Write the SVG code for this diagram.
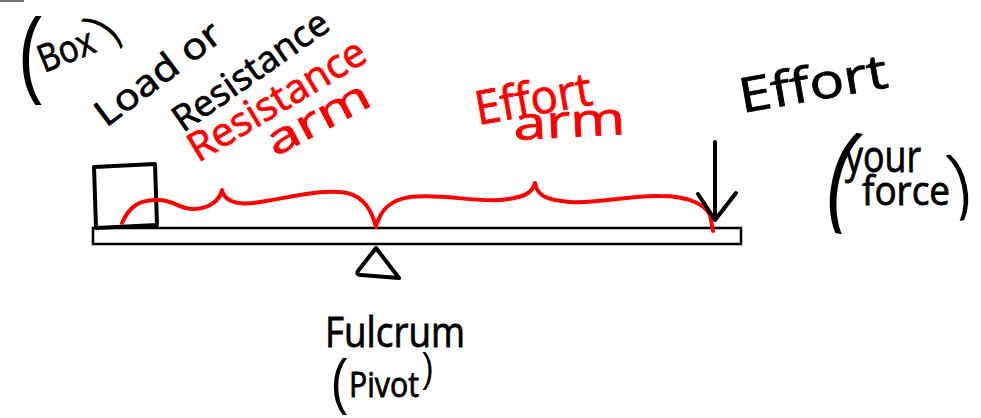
<svg xmlns="http://www.w3.org/2000/svg" width="981" height="418" viewBox="0 0 981 418">
<style>
.ink{fill:none;stroke:#000;stroke-width:4;stroke-linecap:round;stroke-linejoin:round}
.red{fill:none;stroke:#f00;stroke-width:4;stroke-linecap:round;stroke-linejoin:round}
.t{font-family:"Open Sans","DejaVu Sans",sans-serif;fill:#000;stroke:#000;stroke-width:0.8}
.tr{font-family:"Open Sans","DejaVu Sans",sans-serif;fill:#f00;stroke:#f00;stroke-width:0.8}
.p{font-family:"Liberation Sans",Arial,sans-serif;fill:#000;text-anchor:middle}
</style>
<rect x="0" y="0" width="24" height="2" fill="#777"/>
<g id="lever">
<rect x="93" y="228" width="648" height="16" fill="#fff" stroke="#000" stroke-width="2.5"/>
</g>
<g id="box">
<path class="ink" d="M94,167 L155,164 L157,225 L96,228 Z"/>
</g>
<g id="fulcrum">
<path class="ink" d="M376,248 L358,271 Q356,275 361,275 L399,278 Z"/>
<text class="t" x="325" y="347" font-size="42" textLength="140" lengthAdjust="spacingAndGlyphs">Fulcrum</text>
<text class="p" x="0" y="16" font-size="62" transform="translate(339 386) scale(0.8 1)">(</text>
<text class="t" x="349" y="397" font-size="34" textLength="70" lengthAdjust="spacingAndGlyphs">Pivot</text>
<text class="p" x="0" y="10" font-size="40" transform="translate(428 372) scale(0.85 1)">)</text>
</g>
<g id="connectors">
<path class="red" d="M122,223 C130,205 140,200 158,200 C175,200 180,210 195,209 C210,208 220,200 222,190 C224,200 235,205 253,203 C290,198 320,188 347,193 C365,197 372,212 376,227"/>
<path class="red" d="M376,227 C380,210 390,200 410,197 C440,193 470,202 500,200 C525,198 533,192 535,183 C537,195 545,200 570,202 C600,204 630,195 660,196 C690,196 705,205 710,215 L713,231"/>
<path class="ink" d="M715,142 L715,220 M698,194 L715,220 L736,193"/>
</g>
<g id="box-label">
<text class="p" x="0" y="0" font-size="95" transform="translate(30 85) scale(0.75 1)">(</text>
<text class="t" x="44" y="73" font-size="38" textLength="58" lengthAdjust="spacingAndGlyphs" transform="rotate(-22 44 73)">Box</text>
<text class="p" x="0" y="13" font-size="52" transform="translate(105 30) rotate(-55) scale(0.8 1)">)</text>
</g>
<g id="load-label">
<text class="t" x="106" y="128" font-size="36" textLength="148" lengthAdjust="spacingAndGlyphs" transform="rotate(-37 106 128)">Load or</text>
<text class="t" x="183" y="133" font-size="36" textLength="182" lengthAdjust="spacingAndGlyphs" transform="rotate(-35 183 133)">Resistance</text>
</g>
<g id="resistance-arm-label">
<text class="tr" x="198" y="163" font-size="40" textLength="200" lengthAdjust="spacingAndGlyphs" transform="rotate(-31 198 163)">Resistance</text>
<text class="tr" x="275" y="157" font-size="42" textLength="112" lengthAdjust="spacingAndGlyphs" transform="rotate(-28 275 157)">arm</text>
</g>
<g id="effort-arm-label">
<text class="tr" x="478" y="125" font-size="47" textLength="118" lengthAdjust="spacingAndGlyphs" transform="rotate(-10 478 125)">Effort</text>
<text class="tr" x="514" y="140" font-size="46" textLength="112" lengthAdjust="spacingAndGlyphs" transform="rotate(-3 514 140)">arm</text>
</g>
<g id="effort-label">
<text class="t" x="742" y="113" font-size="48" textLength="150" lengthAdjust="spacingAndGlyphs" transform="rotate(-10 742 113)">Effort</text>
<text class="p" x="0" y="28" font-size="110" transform="translate(840 182) rotate(12) scale(0.7 1)">(</text>
<text class="t" x="845" y="172" font-size="44" textLength="76" lengthAdjust="spacingAndGlyphs">your</text>
<text class="t" x="862" y="205" font-size="40" textLength="88" lengthAdjust="spacingAndGlyphs">force</text>
<text class="p" x="0" y="19" font-size="72" transform="translate(961 186) rotate(-12) scale(0.75 1)">)</text>
</g>
</svg>
